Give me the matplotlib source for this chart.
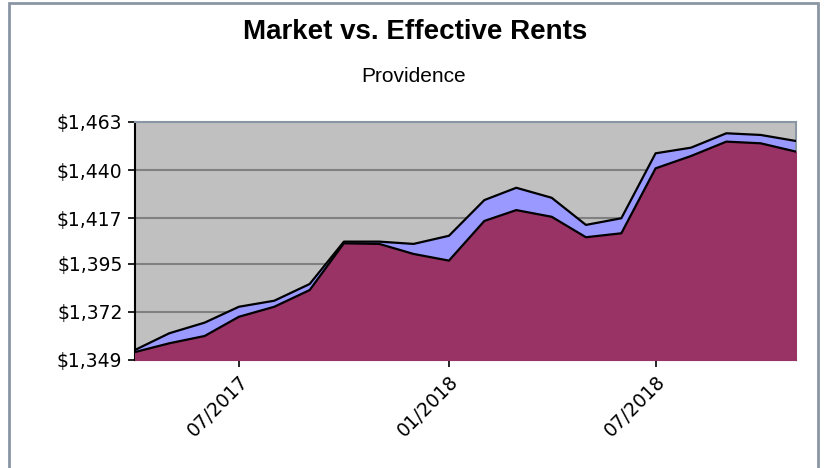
"""Market vs. effective rents, Providence."""

import matplotlib
matplotlib.use("Agg")
import matplotlib.pyplot as plt
import matplotlib.dates as mdates
from matplotlib.patches import Rectangle
import pandas as pd

months = pd.date_range("2017-04-01", "2018-11-01", freq="MS")
market = [1353.8, 1361.8, 1366.9, 1374.5, 1377.4, 1385.4, 1405.7, 1405.7, 1404.6, 1408.5,
          1425.6, 1431.5, 1426.7, 1413.7, 1416.9, 1448.0, 1450.7, 1457.6, 1456.8, 1453.9]
effective = [1352.8, 1357.0, 1360.5, 1369.7, 1374.5, 1382.5, 1404.9, 1404.6, 1399.8, 1396.6,
             1415.6, 1420.8, 1417.6, 1407.8, 1409.7, 1440.8, 1446.7, 1453.6, 1452.8, 1448.8]
yticks = [1349, 1372, 1395, 1417, 1440, 1463]
xticks = ["2017-07-01", "2018-01-01", "2018-07-01"]

fig = plt.figure(figsize=(8.24, 4.68), dpi=100)
fig.patches.append(Rectangle((9 / 824, -0.05), 809 / 824, 1 - 3 / 468 + 0.05,
                             transform=fig.transFigure, fill=False,
                             edgecolor="#8a96a4", linewidth=2))
ax = fig.add_axes([135 / 824, 1 - 360 / 468, 661 / 824, 238 / 468])
ax.set_facecolor("#c0c0c0")

ymin, ymax = 1349, 1463
ax.fill_between(months, ymin, market, color="#9999ff", zorder=2)
ax.fill_between(months, ymin, effective, color="#993366", zorder=3)
ax.plot(months, market, color="black", lw=1.6, zorder=4)
ax.plot(months, effective, color="black", lw=1.6, zorder=5)

ax.set_ylim(ymin, ymax)
ax.set_xlim(months[0], months[-1])
ax.set_yticks(yticks)
ax.set_yticklabels(["${:,}".format(v) for v in yticks], fontsize=13.5)
for v in yticks[1:-1]:
    ax.axhline(v, color="#808080", lw=1.5, zorder=1)

ax.set_xticks(pd.to_datetime(xticks))
ax.xaxis.set_major_formatter(mdates.DateFormatter("%m/%Y"))
plt.setp(ax.get_xticklabels(), rotation=45, ha="right", rotation_mode="anchor", fontsize=13.5)
ax.tick_params(axis="both", length=5, width=1.2, direction="out", color="black")
ax.tick_params(axis="y", pad=4)

for side in ["top", "right"]:
    ax.spines[side].set_color("#8a96a4")
    ax.spines[side].set_linewidth(1.5)
for side in ["left", "bottom"]:
    ax.spines[side].set_color("black")
    ax.spines[side].set_linewidth(1.5)

fig.text(415 / 824, 1 - 32 / 468, "Market vs. Effective Rents", ha="center", va="center",
         fontsize=20, fontweight="bold", family="Liberation Sans")
fig.text(414 / 824, 1 - 77 / 468, "Providence", ha="center", va="center", fontsize=15,
         family="Liberation Sans")

plt.savefig("out.png", dpi=100)
